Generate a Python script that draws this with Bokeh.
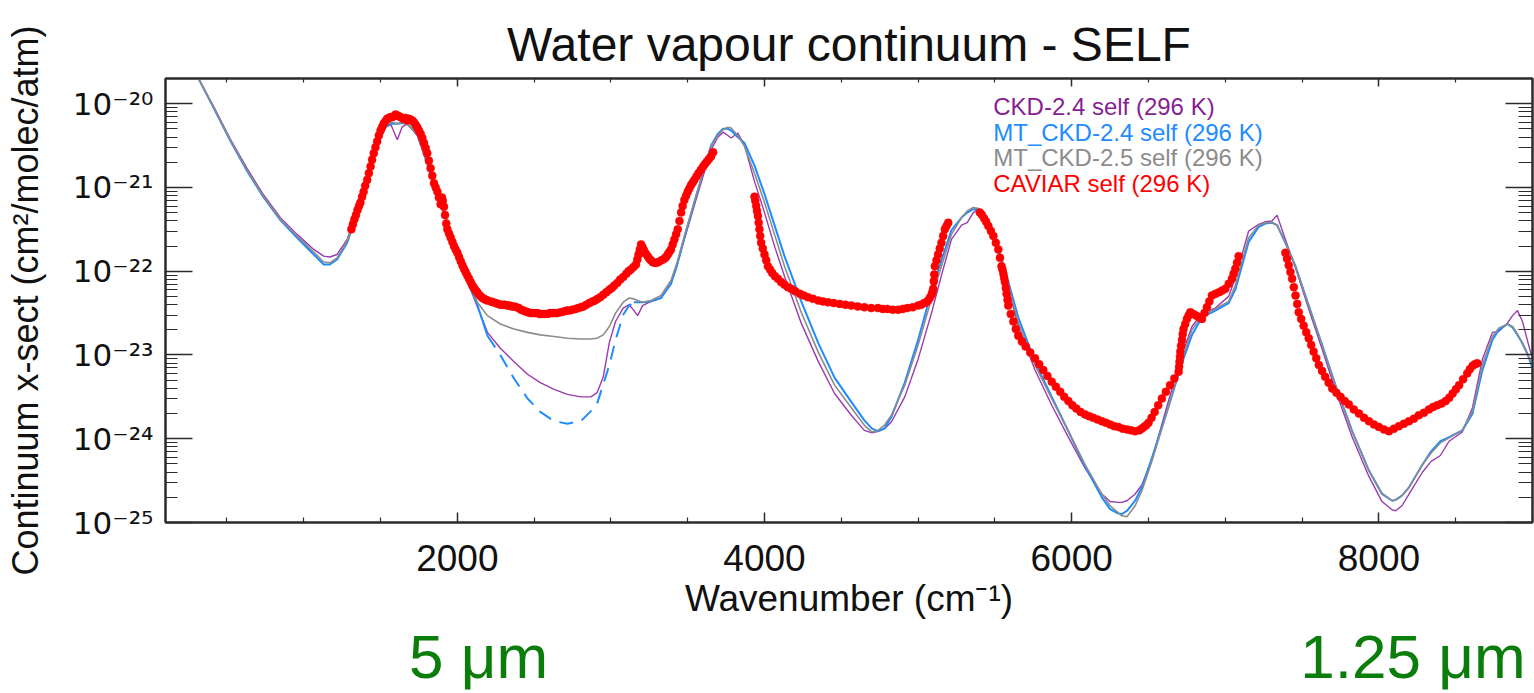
import numpy as np
from bokeh.plotting import figure
from bokeh.models import (FixedTicker, LinearAxis, LogAxis, Label,
                          CustomJSTickFormatter, Range1d)
from bokeh.embed import file_html
from bokeh.resources import INLINE

# ---------------- data ----------------
# model wavenumber grid (cm-1)
wn_model = [250, 315, 413, 521, 630, 739, 848, 957, 1065, 1130, 1170, 1217, 1283, 1348,
            1413, 1478, 1532, 1570, 1609, 1640, 1674, 1739, 1804, 1870, 1935, 2000, 2065,
            2130, 2196, 2280, 2369, 2457, 2540, 2630, 2717, 2804, 2869, 2910, 2950, 2990,
            3030, 3080, 3119, 3150, 3174, 3206, 3261, 3326, 3391, 3430, 3478, 3565, 3652,
            3696, 3730, 3761, 3783, 3826, 3870, 3935, 4000, 4065, 4130, 4239, 4348, 4456,
            4565, 4650, 4700, 4739, 4780, 4826, 4913, 5000, 5087, 5152, 5217, 5283, 5320,
            5359, 5390, 5413, 5478, 5565, 5652, 5761, 5870, 5978, 6087, 6196, 6250, 6300,
            6326, 6360, 6413, 6457, 6522, 6630, 6717, 6783, 6848, 6935, 7022, 7065, 7109,
            7152, 7217, 7260, 7304, 7337, 7391, 7457, 7543, 7630, 7717, 7826, 7935, 8020,
            8087, 8109, 8150, 8196, 8283, 8340, 8400, 8457, 8543, 8609, 8674, 8739, 8780,
            8837, 8870, 8902, 8935, 8970, 9000]

# log10 of the continuum cross-section (cm2/molec/atm)
mtckd25_exp = [-19.47, -19.70, -20.04, -20.43, -20.79, -21.11, -21.38, -21.58, -21.77, -21.89,
               -21.90, -21.84, -21.64, -21.30, -20.91, -20.47, -20.26, -20.22, -20.24, -20.22,
               -20.24, -20.36, -20.71, -21.07, -21.42, -21.78, -22.09, -22.37, -22.53, -22.63,
               -22.69, -22.73, -22.76, -22.78, -22.80, -22.81, -22.81, -22.80, -22.76, -22.66,
               -22.50, -22.37, -22.32, -22.33, -22.35, -22.37, -22.35, -22.29, -22.11, -21.90,
               -21.58, -21.03, -20.51, -20.38, -20.31, -20.28, -20.29, -20.38, -20.51, -20.83,
               -21.18, -21.56, -21.94, -22.49, -22.96, -23.36, -23.63, -23.84, -23.92, -23.90,
               -23.84, -23.72, -23.36, -22.88, -22.33, -21.94, -21.56, -21.36, -21.28, -21.24,
               -21.25, -21.28, -21.50, -22.01, -22.61, -23.12, -23.52, -23.91, -24.31, -24.66,
               -24.80, -24.88, -24.92, -24.93, -24.80, -24.62, -24.27, -23.62, -23.06, -22.70,
               -22.53, -22.45, -22.36, -22.17, -21.88, -21.60, -21.45, -21.42, -21.42, -21.45,
               -21.66, -21.94, -22.41, -22.88, -23.36, -23.91, -24.38, -24.65, -24.74, -24.73,
               -24.68, -24.58, -24.31, -24.17, -24.05, -23.99, -23.90, -23.67, -23.12, -22.78,
               -22.68, -22.63, -22.66, -22.75, -22.87, -23.00, -23.12]

mtckd24_exp = [-19.47, -19.70, -20.05, -20.44, -20.80, -21.12, -21.39, -21.60, -21.80, -21.92,
               -21.92, -21.86, -21.66, -21.30, -20.91, -20.50, -20.28, -20.24, -20.24, -20.23,
               -20.24, -20.36, -20.69, -21.06, -21.42, -21.78, -22.10, -22.40, -22.77, -23.00,
               -23.28, -23.52, -23.68, -23.79, -23.82, -23.79, -23.67, -23.58, -23.35, -23.12,
               -22.82, -22.52, -22.41, -22.37, -22.37, -22.37, -22.36, -22.32, -22.15, -21.93,
               -21.60, -21.04, -20.50, -20.36, -20.30, -20.30, -20.32, -20.40, -20.47, -20.74,
               -21.08, -21.45, -21.82, -22.36, -22.85, -23.27, -23.56, -23.78, -23.88, -23.91,
               -23.88, -23.74, -23.33, -22.82, -22.24, -21.87, -21.51, -21.36, -21.30, -21.26,
               -21.26, -21.28, -21.48, -21.98, -22.55, -23.08, -23.50, -23.91, -24.33, -24.70,
               -24.84, -24.89, -24.90, -24.86, -24.74, -24.58, -24.23, -23.62, -23.10, -22.76,
               -22.55, -22.47, -22.38, -22.22, -21.93, -21.65, -21.47, -21.43, -21.42, -21.45,
               -21.66, -21.94, -22.41, -22.88, -23.36, -23.91, -24.38, -24.66, -24.74, -24.73,
               -24.68, -24.58, -24.31, -24.15, -24.03, -23.98, -23.90, -23.70, -23.18, -22.82,
               -22.70, -22.63, -22.67, -22.76, -22.86, -23.00, -23.16]

ckd24_exp = [-19.47, -19.70, -20.03, -20.42, -20.77, -21.09, -21.36, -21.56, -21.74, -21.82,
             -21.83, -21.80, -21.62, -21.27, -20.88, -20.45, -20.25, -20.26, -20.43, -20.28,
             -20.24, -20.38, -20.73, -21.09, -21.44, -21.80, -22.12, -22.42, -22.73, -22.92,
             -23.08, -23.23, -23.33, -23.41, -23.47, -23.50, -23.50, -23.45, -23.26, -22.85,
             -22.60, -22.44, -22.40, -22.47, -22.53, -22.41, -22.36, -22.32, -22.15, -21.93,
             -21.62, -21.08, -20.55, -20.40, -20.34, -20.38, -20.41, -20.35, -20.50, -20.93,
             -21.30, -21.70, -22.06, -22.62, -23.07, -23.46, -23.72, -23.90, -23.93, -23.91,
             -23.88, -23.80, -23.50, -23.05, -22.50, -22.05, -21.62, -21.45, -21.42, -21.30,
             -21.26, -21.27, -21.47, -22.04, -22.66, -23.18, -23.60, -23.98, -24.35, -24.66,
             -24.75, -24.76, -24.76, -24.74, -24.66, -24.55, -24.25, -23.55, -23.00, -22.66,
             -22.50, -22.44, -22.30, -22.08, -21.80, -21.52, -21.44, -21.41, -21.40, -21.33,
             -21.62, -21.96, -22.45, -22.93, -23.42, -23.98, -24.45, -24.75, -24.85, -24.86,
             -24.80, -24.66, -24.40, -24.27, -24.20, -24.03, -23.92, -23.63, -23.05, -22.73,
             -22.72, -22.62, -22.53, -22.47, -22.60, -22.85, -23.05]

# CAVIAR self-continuum measurements: (wavenumber, log10 cross-section)
caviar_band1 = [
    (1310, -21.50), (1320, -21.44), (1330, -21.38), (1340, -21.33), (1350, -21.27),
    (1360, -21.22), (1369, -21.18), (1380, -21.11), (1390, -21.05), (1400, -20.98),
    (1413, -20.91), (1424, -20.83), (1435, -20.75), (1445, -20.67), (1456, -20.59),
    (1467, -20.52), (1478, -20.45), (1489, -20.38), (1500, -20.32), (1510, -20.28),
    (1520, -20.24), (1532, -20.21), (1543, -20.18), (1554, -20.17), (1565, -20.16),
    (1576, -20.16), (1587, -20.15), (1598, -20.13), (1609, -20.14), (1620, -20.15),
    (1630, -20.16), (1641, -20.17), (1652, -20.18), (1663, -20.17), (1674, -20.20),
    (1685, -20.18), (1695, -20.19), (1706, -20.20), (1717, -20.22), (1728, -20.25),
    (1739, -20.28), (1750, -20.32), (1761, -20.36), (1772, -20.41), (1783, -20.47),
    (1794, -20.53), (1804, -20.59), (1815, -20.68), (1826, -20.77), (1837, -20.86),
    (1848, -20.95), (1859, -21.00), (1870, -21.05), (1880, -21.12), (1891, -21.20),
    (1900, -21.12), (1905, -21.16), (1913, -21.23), (1920, -21.33), (1928, -21.43),
    (1935, -21.50), (1946, -21.55), (1957, -21.60), (1968, -21.65), (1978, -21.70),
    (1989, -21.74), (2000, -21.78), (2011, -21.83), (2022, -21.88), (2033, -21.93),
    (2043, -21.97), (2054, -22.01), (2065, -22.05), (2076, -22.09), (2087, -22.13),
    (2098, -22.17), (2109, -22.20), (2120, -22.23), (2130, -22.25), (2141, -22.28),
    (2152, -22.30), (2163, -22.32), (2174, -22.33), (2185, -22.34), (2196, -22.35),
    (2217, -22.36), (2233, -22.37), (2250, -22.38), (2265, -22.39), (2280, -22.40),
    (2295, -22.40), (2310, -22.40), (2325, -22.41), (2340, -22.41), (2355, -22.42),
    (2369, -22.42), (2385, -22.43), (2400, -22.44), (2415, -22.46), (2430, -22.47),
    (2445, -22.48), (2460, -22.49), (2475, -22.50), (2490, -22.50), (2505, -22.50),
    (2520, -22.50), (2535, -22.51), (2550, -22.51), (2568, -22.51), (2587, -22.51),
    (2603, -22.50), (2620, -22.50), (2635, -22.50), (2650, -22.50), (2672, -22.49),
    (2695, -22.48), (2712, -22.47), (2730, -22.47), (2750, -22.46), (2770, -22.45),
    (2787, -22.44), (2804, -22.43), (2822, -22.42), (2840, -22.40), (2860, -22.38),
    (2880, -22.36), (2896, -22.35), (2913, -22.33), (2931, -22.31), (2950, -22.28),
    (2970, -22.25), (2990, -22.22), (3006, -22.20), (3022, -22.17), (3041, -22.14),
    (3060, -22.10), (3080, -22.07), (3100, -22.03), (3115, -22.00), (3130, -21.98),
    (3147, -21.95), (3163, -21.92), (3172, -21.86), (3180, -21.80), (3188, -21.74),
    (3196, -21.68), (3205, -21.71), (3215, -21.75), (3227, -21.79), (3239, -21.82),
    (3250, -21.85), (3260, -21.87), (3271, -21.89), (3283, -21.90), (3296, -21.90),
    (3310, -21.89), (3329, -21.87), (3348, -21.85), (3359, -21.83), (3370, -21.80),
    (3380, -21.77), (3391, -21.74), (3402, -21.68), (3413, -21.62), (3424, -21.56),
    (3435, -21.50), (3446, -21.40), (3457, -21.30), (3467, -21.22), (3478, -21.15),
    (3489, -21.10), (3500, -21.05), (3511, -21.01), (3522, -20.97), (3533, -20.94),
    (3543, -20.91), (3557, -20.87), (3570, -20.83), (3585, -20.79), (3600, -20.75),
    (3612, -20.72), (3625, -20.69), (3638, -20.66), (3652, -20.63), (3665, -20.58)]

caviar_band2 = [
    (3935, -21.11), (3940, -21.16), (3946, -21.22), (3951, -21.28), (3957, -21.34),
    (3962, -21.42), (3967, -21.50), (3972, -21.58), (3978, -21.66), (3989, -21.73),
    (4000, -21.80), (4011, -21.87), (4022, -21.94), (4036, -21.98), (4050, -22.02),
    (4068, -22.06), (4087, -22.09), (4108, -22.13), (4130, -22.16), (4152, -22.19),
    (4174, -22.21), (4200, -22.24), (4230, -22.27), (4256, -22.29), (4283, -22.31),
    (4315, -22.33), (4350, -22.35), (4380, -22.36), (4413, -22.37), (4450, -22.38),
    (4490, -22.39), (4527, -22.40), (4565, -22.41), (4607, -22.42), (4650, -22.43),
    (4695, -22.44), (4739, -22.44), (4770, -22.45), (4800, -22.45), (4835, -22.46),
    (4870, -22.46), (4900, -22.45), (4930, -22.44), (4965, -22.43), (5000, -22.41),
    (5020, -22.40), (5040, -22.38), (5053, -22.37), (5065, -22.35), (5076, -22.32),
    (5087, -22.28), (5093, -22.25), (5098, -22.21), (5102, -22.12), (5105, -22.04),
    (5109, -21.94), (5120, -21.87), (5130, -21.80), (5141, -21.73), (5152, -21.66),
    (5163, -21.58), (5174, -21.50), (5185, -21.46), (5196, -21.42)]

caviar_band3 = [
    (5402, -21.30), (5416, -21.33), (5430, -21.37), (5443, -21.41), (5457, -21.46),
    (5474, -21.52), (5490, -21.58), (5506, -21.66), (5522, -21.74), (5533, -21.84),
    (5543, -21.94), (5549, -21.98), (5555, -22.03), (5560, -22.08), (5565, -22.13),
    (5571, -22.20), (5576, -22.27), (5582, -22.34), (5587, -22.41), (5603, -22.51),
    (5620, -22.60), (5636, -22.69), (5652, -22.77), (5676, -22.84), (5700, -22.90),
    (5730, -22.97), (5761, -23.04), (5788, -23.11), (5815, -23.18), (5842, -23.25),
    (5870, -23.32), (5897, -23.38), (5925, -23.44), (5951, -23.50), (5978, -23.55),
    (6004, -23.60), (6030, -23.64), (6058, -23.68), (6087, -23.71), (6113, -23.73),
    (6140, -23.75), (6168, -23.77), (6196, -23.79), (6223, -23.81), (6250, -23.83),
    (6277, -23.85), (6304, -23.86), (6332, -23.88), (6360, -23.89), (6386, -23.90),
    (6413, -23.91), (6440, -23.90), (6455, -23.88), (6470, -23.86), (6485, -23.84),
    (6500, -23.81), (6520, -23.75), (6540, -23.68), (6563, -23.60), (6587, -23.52),
    (6613, -23.44), (6640, -23.36), (6668, -23.28), (6696, -23.20), (6699, -23.14),
    (6702, -23.08), (6705, -23.02), (6707, -22.96), (6712, -22.89), (6718, -22.82),
    (6723, -22.75), (6728, -22.69), (6739, -22.63), (6750, -22.57), (6761, -22.53),
    (6772, -22.49), (6791, -22.51), (6810, -22.53), (6829, -22.55), (6848, -22.57),
    (6864, -22.50), (6880, -22.43), (6896, -22.36), (6913, -22.29), (6936, -22.27),
    (6960, -22.25), (6980, -22.23), (7000, -22.21), (7022, -22.15), (7043, -22.09),
    (7054, -22.03), (7065, -21.97), (7076, -21.90), (7087, -21.82)]

caviar_band4 = [
    (7391, -21.78), (7402, -21.85), (7413, -21.93), (7424, -22.01), (7435, -22.09),
    (7446, -22.19), (7457, -22.29), (7468, -22.39), (7478, -22.49), (7494, -22.57),
    (7510, -22.65), (7527, -22.73), (7543, -22.80), (7559, -22.88), (7575, -22.96),
    (7592, -23.04), (7609, -23.12), (7630, -23.19), (7650, -23.26), (7673, -23.33),
    (7696, -23.40), (7723, -23.45), (7750, -23.50), (7777, -23.55), (7804, -23.59),
    (7837, -23.65), (7870, -23.70), (7903, -23.75), (7935, -23.79), (7968, -23.83),
    (8000, -23.86), (8033, -23.89), (8065, -23.91), (8098, -23.88), (8130, -23.85),
    (8163, -23.82), (8196, -23.79), (8228, -23.76), (8260, -23.72), (8293, -23.69),
    (8326, -23.65), (8353, -23.62), (8380, -23.60), (8408, -23.58), (8435, -23.55),
    (8458, -23.51), (8480, -23.46), (8501, -23.41), (8522, -23.36), (8548, -23.29),
    (8575, -23.22), (8592, -23.17), (8610, -23.13), (8625, -23.11), (8640, -23.10)]

x_major_ticks = [2000, 4000, 6000, 8000]
x_minor_ticks = [500, 1000, 1500, 2500, 3000, 3500, 4500, 5000, 5500, 6500, 7000, 7500,
                 8500, 9000]
y_decades = [-25, -24, -23, -22, -21, -20]

legend_labels = ["CKD-2.4 self (296 K)", "MT_CKD-2.4 self (296 K)",
                 "MT_CKD-2.5 self (296 K)", "CAVIAR self (296 K)"]
band_labels = ["5 \u03bcm", "1.25 \u03bcm"]
band_label_wn = [2138, 8222]   # wavenumber under which each wavelength label sits

# ---------------- styling ----------------
FONT = "Liberation Sans"
C_CKD = "#9a3aae"
C_CKD_TXT = "#861f93"
C_MT24 = "#1e8cff"
C_MT25 = "#8c8c8c"
C_CAV = "#ff0000"
C_GREEN = "#0a7d0a"
AX = "#2b2b2b"

wn = np.array(wn_model, dtype=float)
mt25 = 10.0 ** np.array(mtckd25_exp)
mt24 = 10.0 ** np.array(mtckd24_exp)
ckd24 = 10.0 ** np.array(ckd24_exp)
cav = np.array(caviar_band1 + caviar_band2 + caviar_band3 + caviar_band4, dtype=float)
cav_x = cav[:, 0]
cav_y = 10.0 ** cav[:, 1]

y_major = [10.0 ** e for e in y_decades]
y_minor = [k * 10.0 ** e for e in y_decades for k in range(2, 10)]

p = figure(width=1534, height=693, x_range=Range1d(100, 9000),
           y_range=Range1d(1e-25, 2e-20), y_axis_type="log",
           output_backend="svg", toolbar_location=None,
           min_border_left=165, min_border_right=2, min_border_top=78,
           min_border_bottom=170)
p.xgrid.visible = False
p.ygrid.visible = False
p.outline_line_color = AX
p.outline_line_width = 2
p.background_fill_color = "white"
p.border_fill_color = "white"

p.title.text = "Water vapour continuum - SELF"
p.title.align = "center"
p.title.text_font = FONT
p.title.text_font_size = "48px"
p.title.text_font_style = "normal"
p.title.text_color = "#111111"
p.title.standoff = 16

sup_fmt = CustomJSTickFormatter(code="""
const sup = {"-": "\u207b", "0": "\u2070", "1": "\u00b9", "2": "\u00b2", "3": "\u00b3",
             "4": "\u2074", "5": "\u2075", "6": "\u2076", "7": "\u2077", "8": "\u2078",
             "9": "\u2079"};
const e = Math.round(Math.log10(tick));
return "10" + String(e).split("").map(c => sup[c]).join("");
""")
blank_fmt = CustomJSTickFormatter(code="return ''")


def style_axis(ax, major_len, minor_len):
    ax.axis_line_color = AX
    ax.axis_line_width = 2
    ax.major_tick_line_color = AX
    ax.minor_tick_line_color = AX
    ax.major_tick_line_width = 1.5
    ax.minor_tick_line_width = 1.2
    ax.major_tick_in = major_len
    ax.major_tick_out = 0
    ax.minor_tick_in = minor_len
    ax.minor_tick_out = 0
    ax.major_label_text_font = FONT
    ax.axis_label_text_font = FONT
    ax.axis_label_text_font_style = "normal"
    ax.major_label_text_color = "#111111"
    ax.axis_label_text_color = "#111111"


xt = FixedTicker(ticks=x_major_ticks, minor_ticks=x_minor_ticks)
yt = FixedTicker(ticks=y_major, minor_ticks=y_minor)

xa = p.xaxis[0]
xa.ticker = xt
style_axis(xa, 10, 5)
xa.major_label_text_font_size = "37px"
xa.major_label_standoff = 22
xa.axis_label = "Wavenumber (cm\u207b\u00b9)"
xa.axis_label_text_font_size = "37px"
xa.axis_label_standoff = 4

ya = p.yaxis[0]
ya.ticker = yt
ya.formatter = sup_fmt
style_axis(ya, 27, 12)
ya.major_label_text_font = "DejaVu Sans"
ya.major_label_text_font_size = "31px"
ya.major_label_standoff = 12
ya.axis_label = "Continuum x-sect (cm\u00b2/molec/atm)"
ya.axis_label_text_font_size = "36px"
ya.axis_label_standoff = 24

top_ax = LinearAxis(ticker=xt, formatter=blank_fmt)
style_axis(top_ax, 8, 4)
top_ax.major_label_standoff = 0
top_ax.major_label_text_font_size = "1px"
p.add_layout(top_ax, "above")

right_ax = LogAxis(ticker=yt, formatter=blank_fmt)
style_axis(right_ax, 27, 14)
right_ax.major_label_standoff = 0
right_ax.major_label_text_font_size = "1px"
p.add_layout(right_ax, "right")

# wavelength labels under the wavenumber axis, as a second, tick-less axis
band_fmt = CustomJSTickFormatter(args=dict(pos=band_label_wn, labels=band_labels), code="""
const i = pos.indexOf(tick);
return i >= 0 ? labels[i] : "";
""")
band_ax = LinearAxis(ticker=FixedTicker(ticks=band_label_wn, minor_ticks=[]),
                     formatter=band_fmt)
band_ax.axis_line_color = None
band_ax.major_tick_line_color = None
band_ax.minor_tick_line_color = None
band_ax.major_tick_in = 0
band_ax.major_tick_out = 0
band_ax.minor_tick_in = 0
band_ax.minor_tick_out = 0
band_ax.major_label_standoff = 0
band_ax.major_label_text_font = FONT
band_ax.major_label_text_font_size = "62px"
band_ax.major_label_text_color = C_GREEN
p.add_layout(band_ax, "below")

# model curves
p.line(wn, ckd24, line_color=C_CKD, line_width=1.4)
m1 = wn <= 2196
m2 = (wn >= 2196) & (wn <= 3150)
m3 = wn >= 3150
p.line(wn[m1], mt24[m1], line_color=C_MT24, line_width=2)
p.line(wn[m2], mt24[m2], line_color=C_MT24, line_width=2, line_dash="14 9")
p.line(wn[m3], mt24[m3], line_color=C_MT24, line_width=2)
p.line(wn, mt25, line_color=C_MT25, line_width=1.6)

# CAVIAR points
p.scatter(cav_x, cav_y, marker="circle", size=8, fill_color=C_CAV,
          line_color=C_CAV, line_width=0.5)

# legend as coloured text
leg_colors = [C_CKD_TXT, C_MT24, C_MT25, C_CAV]
for i, (txt, col) in enumerate(zip(legend_labels, leg_colors)):
    p.add_layout(Label(x=5489, y=10.0 ** (-20.03 - 0.309 * i), text=txt,
                       text_color=col, text_font=FONT, text_font_size="24px",
                       text_baseline="middle", text_align="left"))

open("out.html", "w").write(file_html(p, INLINE))
